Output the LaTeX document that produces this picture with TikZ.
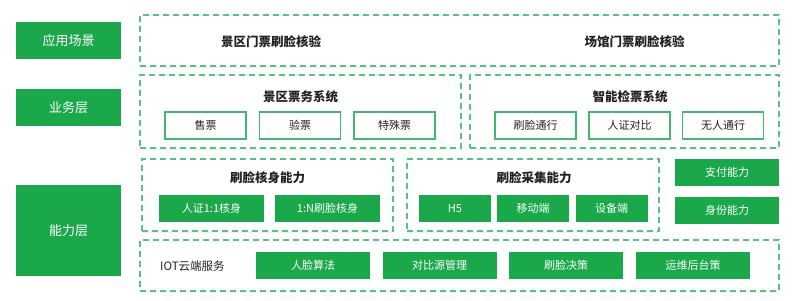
\documentclass[tikz,border=0pt]{standalone}
\usepackage{fontspec}
\setmainfont{Noto Sans CJK SC}
\usepackage{xcolor}
\usepackage{tikz}
\usetikzlibrary{positioning, shadows}
\definecolor{leaf}{RGB}{27, 168, 74}
\definecolor{dashgreen}{RGB}{88, 194, 134}
\definecolor{linegreen}{RGB}{64, 184, 110}
\definecolor{ink}{RGB}{34, 34, 34}

\begin{document}
\begin{tikzpicture}[x=1pt, y=-1pt,
    layer/.style={rectangle, fill=leaf, text=white, inner sep=0pt, font=\fontsize{13}{13}\selectfont},
    group/.style={rectangle, draw=dashgreen, line width=1.2pt, dash pattern=on 6pt off 4pt, fill=white, inner sep=0pt,
        drop shadow={opacity=0.10, shadow xshift=0pt, shadow yshift=-1.5pt}},
    item/.style={rectangle, draw=linegreen, line width=1.1pt, fill=white, text=ink, minimum height=27pt, inner sep=0pt, font=\fontsize{11}{11}\selectfont},
    solid item/.style={rectangle, fill=leaf, text=white, minimum height=27pt, inner sep=0pt, font=\fontsize{11}{11}\selectfont},
    title/.style={text=ink, inner sep=0pt, font=\fontsize{12.5}{12.5}\selectfont\bfseries}
]
    \useasboundingbox (0,0) rectangle (802,300);

    % Layer labels
    \node[layer, minimum width=105pt, minimum height=37pt] (appLayer) at (68.5,40.5) {应用场景};
    \node[layer, minimum width=105pt, minimum height=37pt] (bizLayer) at (68.5,107.5) {业务层};
    \node[layer, minimum width=105pt, minimum height=91pt] (capLayer) at (68.5,230.5) {能力层};

    % Groups
    \node[group, minimum width=639pt, minimum height=51pt] (scene) at (459.5,40.5) {};
    \node[group, minimum width=321pt, minimum height=73pt] (ticketSys) at (300.5,111.5) {};
    \node[group, minimum width=309pt, minimum height=73pt] (checkSys) at (624.5,111.5) {};
    \node[group, minimum width=251pt, minimum height=72pt] (faceVerify) at (267.5,195) {};
    \node[group, minimum width=252pt, minimum height=72pt] (faceCollect) at (533,195) {};
    \node[group, minimum width=639pt, minimum height=51pt] (iot) at (459.5,265.5) {};

    % Application scenes
    \node[title] (sceneA) at (271,42) {景区门票刷脸核验};
    \node[title] (sceneB) at (634.5,42) {场馆门票刷脸核验};

    % Business layer
    \node[title] (ticketTitle) at (300.5,97) {景区票务系统};
    \node[item, minimum width=81pt] (sell) at (205.5,125.5) {售票};
    \node[item, minimum width=81pt] (check) at (300,125.5) {验票};
    \node[item, minimum width=81pt] (special) at (394.5,125.5) {特殊票};
    \node[title] (checkTitle) at (630,97) {智能检票系统};
    \node[item, minimum width=81pt] (facePass) at (535.5,125.5) {刷脸通行};
    \node[item, minimum width=81pt] (idMatch) at (629.5,125.5) {人证对比};
    \node[item, minimum width=81pt] (autoPass) at (723,125.5) {无人通行};

    % Capability layer
    \node[title] (verifyTitle) at (267.5,178) {刷脸核身能力};
    \node[solid item, minimum width=105pt] (oneToOne) at (211.5,208.5) {人证1:1核身};
    \node[solid item, minimum width=105pt] (oneToN) at (327.5,208.5) {1:N刷脸核身};
    \node[title] (collectTitle) at (534,178) {刷脸采集能力};
    \node[solid item, minimum width=72pt] (hFive) at (455,208.5) {H5};
    \node[solid item, minimum width=72pt] (mobile) at (533,208.5) {移动端};
    \node[solid item, minimum width=72pt] (device) at (611.5,208.5) {设备端};
    \node[solid item, minimum width=104pt] (pay) at (727,172.5) {支付能力};
    \node[solid item, minimum width=104pt] (identity) at (727,210.5) {身份能力};

    % IOT cloud
    \node[text=ink, anchor=west, inner sep=0pt, font=\fontsize{11.5}{11.5}\selectfont] (iotTitle) at (160,266.5) {IOT云端服务};
    \node[solid item, minimum width=114pt] (faceAlgo) at (313,265.5) {人脸算法};
    \node[solid item, minimum width=114pt] (sourceMgmt) at (439.5,265.5) {对比源管理};
    \node[solid item, minimum width=114pt] (decision) at (566,265.5) {刷脸决策};
    \node[solid item, minimum width=114pt] (ops) at (693,265.5) {运维后台策};
\end{tikzpicture}
\end{document}
